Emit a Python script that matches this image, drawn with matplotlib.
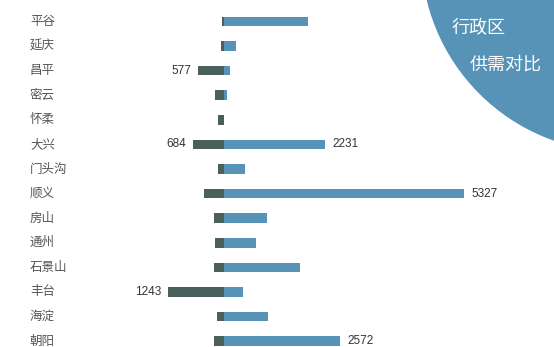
import matplotlib
matplotlib.use("Agg")
import matplotlib.pyplot as plt
from matplotlib.patches import Circle

plt.rcParams['font.family'] = ['Noto Sans CJK SC', 'DejaVu Sans']

districts = ["平谷", "延庆", "昌平", "密云", "怀柔", "大兴", "门头沟", "顺义",
             "房山", "通州", "石景山", "丰台", "海淀", "朝阳"]
supply = [40, 67, 577, 200, 133, 684, 133, 444, 222, 200, 222, 1243, 155, 222]
demand = [1864, 266, 133, 67, 0, 2231, 466, 5327, 954, 710, 1687, 422, 977, 2572]
supply_label_min = 500
demand_label_min = 2000
title_lines = ["行政区", "供需对比"]

W, H = 554, 347
DARK = "#4a605d"
BLUE = "#5793b7"

fig = plt.figure(figsize=(W / 100, H / 100), dpi=100)

# overlay in pixel coordinates for the corner decoration
deco = fig.add_axes([0, 0, 1, 1])
deco.set_xlim(0, W)
deco.set_ylim(H, 0)
deco.axis("off")
deco.add_patch(Circle((620, -47), 199, color=BLUE, lw=0))
deco.text(452, 28, title_lines[0], color="white", fontsize=13, va="center", ha="left")
deco.text(470, 65, title_lines[1], color="white", fontsize=13, va="center", ha="left")

# main chart axes spanning the full figure
ax = fig.add_axes([0, 0, 1, 1], facecolor="none")
zero_px = 224.0
px_per_unit = 240.0 / 5327
row0 = 21.5
row_step = 24.58
ax.set_xlim(-zero_px / px_per_unit, (W - zero_px) / px_per_unit)
ax.set_ylim((H - row0) / row_step, -row0 / row_step)
ax.axis("off")

ypos = list(range(len(districts)))
bh = 0.39
ax.barh(ypos, [-v for v in supply], height=bh, color=DARK, lw=0)
ax.barh(ypos, demand, height=bh, color=BLUE, lw=0)

label_x = -(zero_px - 30) / px_per_unit
for y, name in zip(ypos, districts):
    ax.text(label_x, y, name, fontsize=9, color="#555555", va="center", ha="left")

for y, s, d in zip(ypos, supply, demand):
    if s >= supply_label_min:
        ax.annotate(str(s), (-s, y), xytext=(-5, 0), textcoords="offset points",
                    ha="right", va="center", fontsize=8.5, color="#333333",
                    family="Liberation Sans")
    if d >= demand_label_min:
        ax.annotate(str(d), (d, y), xytext=(5.5, 0), textcoords="offset points",
                    ha="left", va="center", fontsize=8.5, color="#333333",
                    family="Liberation Sans")

fig.savefig("out.png", dpi=100)
